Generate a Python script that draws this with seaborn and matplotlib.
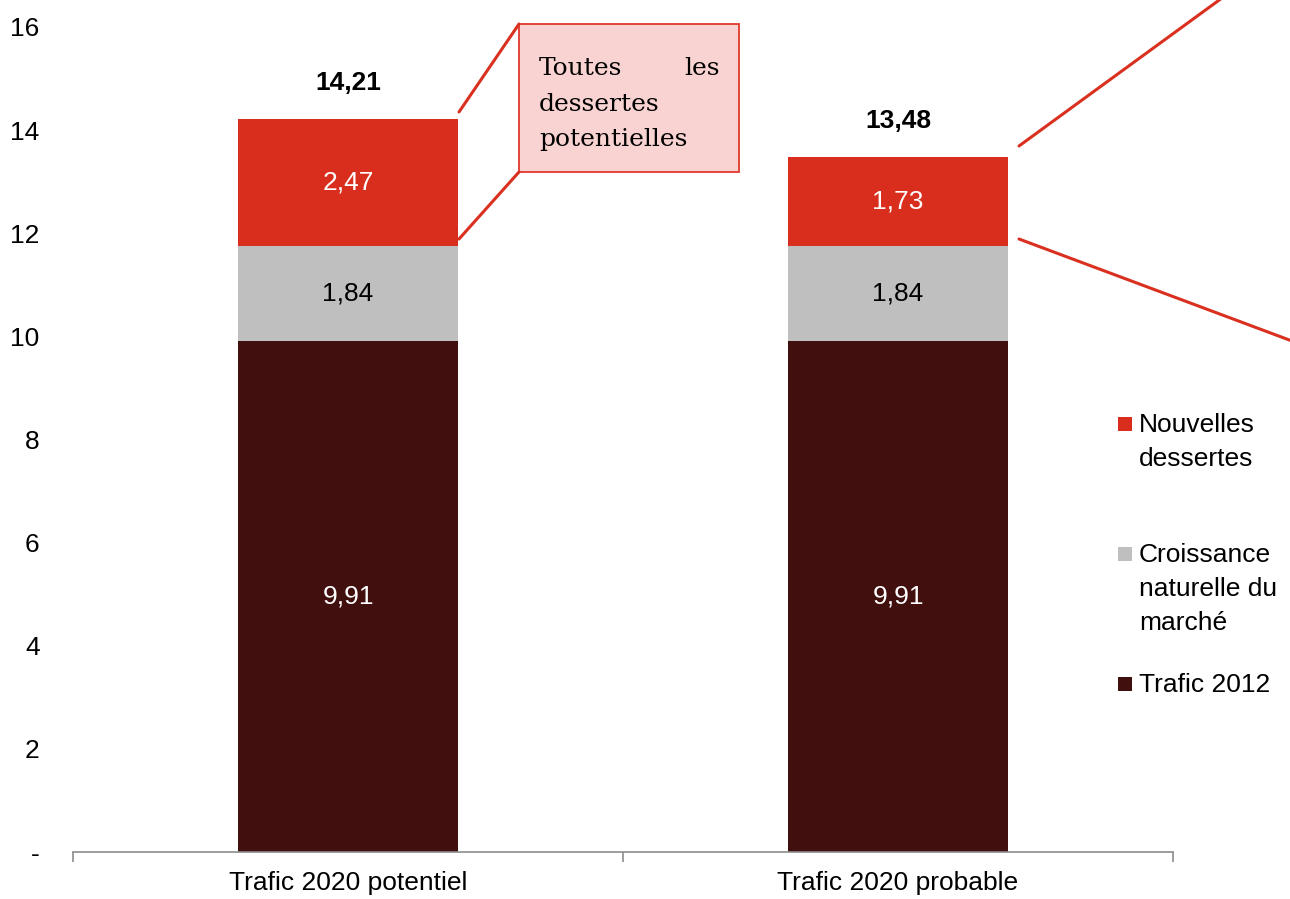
import matplotlib
matplotlib.use("Agg")
import matplotlib.pyplot as plt
import seaborn as sns
import pandas as pd
import numpy as np
from matplotlib.patches import Rectangle
from matplotlib.lines import Line2D

categories = ["Trafic 2020 potentiel", "Trafic 2020 probable"]
trafic_2012 = [9.91, 9.91]
croissance = [1.84, 1.84]
nouvelles = [2.47, 1.73]
totals = [14.21, 13.48]
series_names = ["Nouvelles\ndessertes", "Croissance\nnaturelle du\nmarché", "Trafic 2012"]
yticks = [0, 2, 4, 6, 8, 10, 12, 14, 16]
ytick_labels = ["-", "2", "4", "6", "8", "10", "12", "14", "16"]
callout_text = ["Toutes", "les", "dessertes", "potentielles"]

c_red = "#D92E1D"
c_grey = "#BFBFBF"
c_dark = "#420F0F"

sns.set_theme(style="white")
plt.rcParams["font.family"] = ["Liberation Sans", "DejaVu Sans"]
plt.rcParams["text.color"] = "black"
plt.rcParams["xtick.labelcolor"] = "black"
plt.rcParams["ytick.labelcolor"] = "black"

W, H = 1290, 899
fig = plt.figure(figsize=(W / 100, H / 100), dpi=100)
ax = fig.add_axes([73 / W, (H - 852) / H, 1100 / W, 825 / H])

df = pd.DataFrame({"cat": categories, "t": trafic_2012, "c": croissance, "n": nouvelles})
b1 = np.array(trafic_2012)
b2 = b1 + np.array(croissance)
sns.barplot(data=df, x="cat", y="t", color=c_dark, width=0.4, ax=ax, saturation=1, linewidth=0)
sns.barplot(data=df, x="cat", y="c", color=c_grey, width=0.4, ax=ax, saturation=1, linewidth=0, bottom=b1)
sns.barplot(data=df, x="cat", y="n", color=c_red, width=0.4, ax=ax, saturation=1, linewidth=0, bottom=b2)

fs = 19
def fmt(v):
    return f"{v:.2f}".replace(".", ",")

for i in range(2):
    ax.text(i, trafic_2012[i] / 2, fmt(trafic_2012[i]), ha="center", va="center", color="white", fontsize=fs)
    ax.text(i, b1[i] + croissance[i] / 2, fmt(croissance[i]), ha="center", va="center", color="black", fontsize=fs)
    ax.text(i, b2[i] + nouvelles[i] / 2, fmt(nouvelles[i]), ha="center", va="center", color="white", fontsize=fs)
    ax.text(i, totals[i] + 0.7, fmt(totals[i]), ha="center", va="center", color="black", fontsize=fs, fontweight="bold")

ax.set_xlim(-0.5, 1.5)
ax.set_ylim(0, 16)
ax.set_yticks(yticks)
ax.set_yticklabels(ytick_labels, fontsize=fs)
ax.set_xlabel("")
ax.set_ylabel("")
ax.set_xticks([0, 1])
ax.set_xticklabels(categories, fontsize=fs)
ax.set_xticks([-0.5, 0.5, 1.5], minor=True)
ax.tick_params(axis="x", which="major", length=0, pad=14)
ax.tick_params(axis="x", which="minor", length=7, width=1.2, color="#8C8C8C", direction="out", bottom=True)
ax.tick_params(axis="y", length=0, pad=24)
for s in ["top", "right", "left"]:
    ax.spines[s].set_visible(False)
ax.spines["bottom"].set_color("#8C8C8C")
ax.spines["bottom"].set_linewidth(1.2)
ax.grid(False)

# figure-pixel helpers
def fx(x):
    return x / W
def fy(y):
    return (H - y) / H

# callout boxes and leader lines
fig.patches.append(Rectangle((fx(519), fy(172)), fx(739) - fx(519), fy(24) - fy(172),
                             transform=fig.transFigure, facecolor="#F9D3D1", edgecolor="#E0382C", lw=1.3))
for (x0, y0, x1, y1) in [(459, 112, 519, 24), (459, 239, 519, 172), (1019, 146, 1222, -2), (1019, 239, 1292, 341)]:
    fig.add_artist(Line2D([fx(x0), fx(x1)], [fy(y0), fy(y1)], transform=fig.transFigure,
                          color="#D9301F", lw=2.2, clip_on=False))
serif = ["DejaVu Serif"]
sfs = 18
fig.text(fx(539), fy(66), callout_text[0], fontsize=sfs, family=serif, ha="left", va="center_baseline")
fig.text(fx(720), fy(66), callout_text[1], fontsize=sfs, family=serif, ha="right", va="center_baseline")
fig.text(fx(539), fy(102), callout_text[2], fontsize=sfs, family=serif, ha="left", va="center_baseline")
fig.text(fx(539), fy(137), callout_text[3], fontsize=sfs, family=serif, ha="left", va="center_baseline")

# legend
leg_items = [(series_names[0], c_red, 423), (series_names[1], c_grey, 553), (series_names[2], c_dark, 683)]
for name, col, ytop in leg_items:
    fig.patches.append(Rectangle((fx(1118), fy(ytop + 8)), 14 / W, 14 / H, transform=fig.transFigure,
                                 facecolor=col, edgecolor="none"))
    for k, line in enumerate(name.split("\n")):
        fig.text(fx(1139), fy(ytop + k * 33.5), line, fontsize=fs, ha="left", va="center_baseline")

fig.savefig("out.png", dpi=100)
